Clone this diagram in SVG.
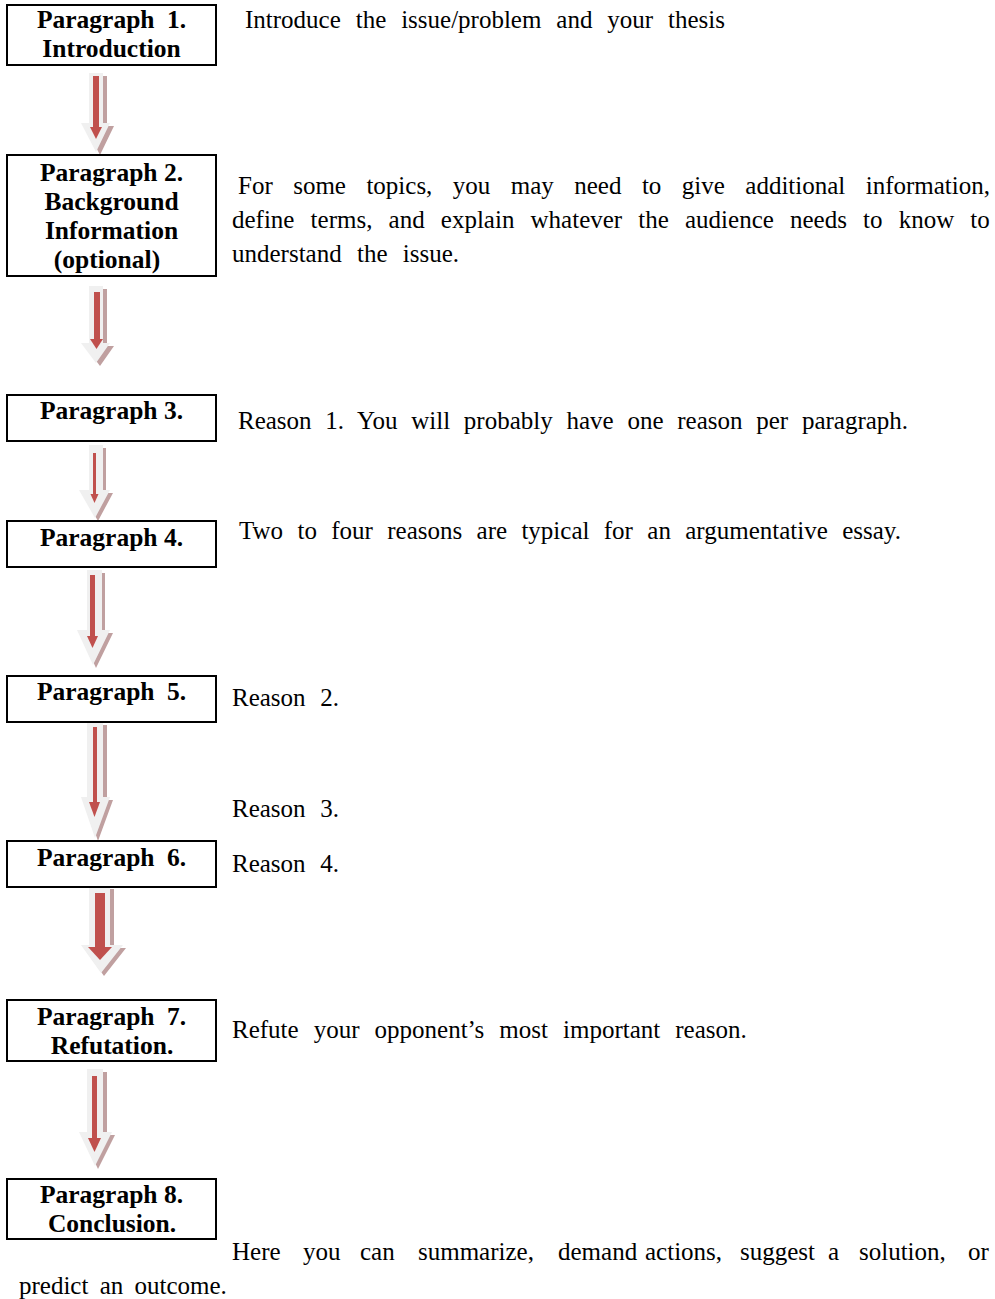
<svg xmlns="http://www.w3.org/2000/svg" width="995" height="1299" viewBox="0 0 995 1299">
<style>
.box{fill:#fff;stroke:#000;stroke-width:2}
.bt{font-family:"Liberation Serif","Times New Roman",serif;font-weight:bold;font-size:25.5px;fill:#000;text-anchor:middle}
.t{font-family:"Liberation Serif","Times New Roman",serif;font-size:25px;fill:#000}
.sh{fill:#c0a0a0}
.ar{fill:#f0f0f0}
.rd{fill:#c0504d}
</style>
<rect width="995" height="1299" fill="#fff"/>
<g id="connectors">
<g id="arrow1"><polygon class="sh" points="93,76 107,76 107,126 114,126 100,155 85,126 93,126"/><polygon class="ar" points="89,73 103,73 103,123 110,123 96,152 81,123 89,123"/><rect class="rd" x="93" y="76" width="6" height="52"/><polygon class="rd" points="90,127 102,127 96,139"/></g>
<g id="arrow2"><polygon class="sh" points="93,289 107,289 107,346 114,346 100,366 85,346 93,346"/><polygon class="ar" points="89,286 103,286 103,343 110,343 96,363 81,343 89,343"/><rect class="rd" x="94" y="292" width="6" height="49"/><polygon class="rd" points="90,339 103,339 96.5,349"/></g>
<g id="arrow3"><polygon class="sh" points="93,448 106,448 106,493 113,493 98,521 82,493 93,493"/><polygon class="ar" points="89,445 103,445 103,490 110,490 95,518 79,490 89,490"/><rect class="rd" x="93" y="453" width="3" height="43"/><polygon class="rd" points="90.5,494 98.5,494 94.5,503"/></g>
<g id="arrow4"><polygon class="sh" points="91,573 105,573 105,633 113,633 96,668 80,633 91,633"/><polygon class="ar" points="87,570 102,570 102,630 110,630 93,665 77,630 87,630"/><rect class="rd" x="90" y="575" width="5" height="62"/><polygon class="rd" points="87,636 98,636 92.5,648"/></g>
<g id="arrow5"><polygon class="sh" points="91,725 107,725 107,800 113,800 98,841 84,800 91,800"/><polygon class="ar" points="87,722 103,722 103,797 110,797 95,838 81,797 87,797"/><rect class="rd" x="93" y="727" width="4" height="78"/><polygon class="rd" points="89,802 100,802 94.5,817"/></g>
<g id="arrow6"><polygon class="sh" points="93,889 114,889 114,948 126,948 104,976 84,948 93,948"/><polygon class="ar" points="89,886 110,886 110,945 123,945 101,973 81,945 89,945"/><rect class="rd" x="95" y="893" width="10" height="55"/><polygon class="rd" points="88,947 112,947 100,960"/></g>
<g id="arrow7"><polygon class="sh" points="91,1072 107,1072 107,1135 115,1135 98,1169 82,1135 91,1135"/><polygon class="ar" points="87,1069 103,1069 103,1132 112,1132 95,1166 79,1132 87,1132"/><rect class="rd" x="92" y="1076" width="5" height="64"/><polygon class="rd" points="88,1138 101,1138 94.5,1152"/></g>
</g>
<g id="node1"><rect class="box" x="7" y="5" width="209" height="60"/><text class="bt" x="111.5" y="28" word-spacing="6">Paragraph 1.</text><text class="bt" x="111.5" y="57">Introduction</text></g>
<g id="node2"><rect class="box" x="7" y="155" width="209" height="121"/><text class="bt" x="111.5" y="181">Paragraph 2.</text><text class="bt" x="111.5" y="210">Background</text><text class="bt" x="111.5" y="239">Information</text><text class="bt" x="107" y="268" font-size="27">(optional)</text></g>
<g id="node3"><rect class="box" x="7" y="395" width="209" height="46"/><text class="bt" x="111.5" y="419">Paragraph 3.</text></g>
<g id="node4"><rect class="box" x="7" y="521" width="209" height="46"/><text class="bt" x="111.5" y="546">Paragraph 4.</text></g>
<g id="node5"><rect class="box" x="7" y="676" width="209" height="46"/><text class="bt" x="111.5" y="700" word-spacing="6">Paragraph 5.</text></g>
<g id="node6"><rect class="box" x="7" y="841" width="209" height="46"/><text class="bt" x="111.5" y="866" word-spacing="6">Paragraph 6.</text></g>
<g id="node7"><rect class="box" x="7" y="1000" width="209" height="61"/><text class="bt" x="111.5" y="1025" word-spacing="6">Paragraph 7.</text><text class="bt" x="112" y="1054">Refutation.</text></g>
<g id="node8"><rect class="box" x="7" y="1179" width="209" height="60"/><text class="bt" x="111.5" y="1203">Paragraph 8.</text><text class="bt" x="112" y="1232">Conclusion.</text></g>
<g id="texts">
<text class="t" x="245" y="28" word-spacing="8.65">Introduce the issue/problem and your thesis</text>
<text class="t" x="238" y="194" word-spacing="14.2">For some topics, you may need to give additional information,</text>
<text class="t" x="232" y="228" word-spacing="9.9">define terms, and explain whatever the audience needs to know to</text>
<text class="t" x="232" y="262" word-spacing="9">understand the issue.</text>
<text class="t" x="238" y="429" word-spacing="7.5">Reason 1. You will probably have one reason per paragraph.</text>
<text class="t" x="239" y="539" word-spacing="8.1">Two to four reasons are typical for an argumentative essay.</text>
<text class="t" x="232" y="706" word-spacing="8.4">Reason 2.</text>
<text class="t" x="232" y="817" word-spacing="8.4">Reason 3.</text>
<text class="t" x="232" y="872" word-spacing="8.4">Reason 4.</text>
<text class="t" x="232" y="1038" word-spacing="8.8">Refute your opponent’s most important reason.</text>
<text class="t" y="1260"><tspan x="232">Here</tspan><tspan x="303">you</tspan><tspan x="360">can</tspan><tspan x="418">summarize,</tspan><tspan x="558">demand</tspan><tspan x="645">actions,</tspan><tspan x="740">suggest</tspan><tspan x="828">a</tspan><tspan x="859">solution,</tspan><tspan x="968">or</tspan></text>
<text class="t" x="19" y="1294" word-spacing="5">predict an outcome.</text>
</g>
</svg>
